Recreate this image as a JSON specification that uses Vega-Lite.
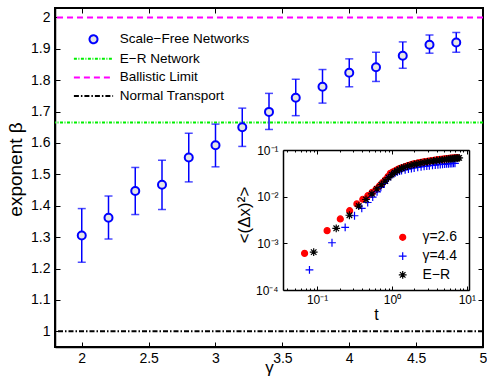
{
  "$schema": "https://vega.github.io/schema/vega-lite/v6.json",
  "width": 428,
  "height": 339,
  "autosize": {"type": "none"},
  "padding": {"left": 55, "top": 8, "right": 4, "bottom": 39},
  "background": "white",
  "config": {
    "font": "Liberation Sans",
    "view": {"stroke": "#000", "strokeWidth": 2},
    "axis": {"grid": false, "domainColor": "#000", "domainWidth": 1.5, "tickColor": "#000", "tickWidth": 1, "labelColor": "#000", "titleColor": "#000", "labelFont": "Liberation Sans", "titleFont": "Liberation Sans", "titleFontWeight": "normal", "labelOverlap": false, "labelFlush": false, "labelBound": false},
    "legend": {"labelFont": "Liberation Sans", "labelColor": "#000", "padding": 0}
  },
  "datasets": {
    "beta": [
      {"series": "Scale−Free Networks", "g": 2.0, "b": 1.305, "lo": 1.22, "hi": 1.391},
      {"series": "Scale−Free Networks", "g": 2.2, "b": 1.362, "lo": 1.294, "hi": 1.431},
      {"series": "Scale−Free Networks", "g": 2.4, "b": 1.447, "lo": 1.372, "hi": 1.522},
      {"series": "Scale−Free Networks", "g": 2.6, "b": 1.467, "lo": 1.388, "hi": 1.545},
      {"series": "Scale−Free Networks", "g": 2.8, "b": 1.554, "lo": 1.476, "hi": 1.631},
      {"series": "Scale−Free Networks", "g": 3.0, "b": 1.593, "lo": 1.524, "hi": 1.66},
      {"series": "Scale−Free Networks", "g": 3.2, "b": 1.65, "lo": 1.589, "hi": 1.711},
      {"series": "Scale−Free Networks", "g": 3.4, "b": 1.699, "lo": 1.643, "hi": 1.758},
      {"series": "Scale−Free Networks", "g": 3.6, "b": 1.744, "lo": 1.687, "hi": 1.803},
      {"series": "Scale−Free Networks", "g": 3.8, "b": 1.779, "lo": 1.727, "hi": 1.834},
      {"series": "Scale−Free Networks", "g": 4.0, "b": 1.824, "lo": 1.779, "hi": 1.868},
      {"series": "Scale−Free Networks", "g": 4.2, "b": 1.841, "lo": 1.796, "hi": 1.889},
      {"series": "Scale−Free Networks", "g": 4.4, "b": 1.878, "lo": 1.838, "hi": 1.922},
      {"series": "Scale−Free Networks", "g": 4.6, "b": 1.913, "lo": 1.886, "hi": 1.944},
      {"series": "Scale−Free Networks", "g": 4.8, "b": 1.92, "lo": 1.889, "hi": 1.952}
    ],
    "levels": [
      {"series": "Ballistic Limit", "level": 2},
      {"series": "E−R Network", "level": 1.665},
      {"series": "Normal Transport", "level": 1}
    ],
    "msd": [
      {"curve": "γ=2.6", "t": 0.068, "v": 0.00061},
      {"curve": "γ=2.6", "t": 0.136, "v": 0.00187},
      {"curve": "γ=2.6", "t": 0.204, "v": 0.00333},
      {"curve": "γ=2.6", "t": 0.272, "v": 0.005},
      {"curve": "γ=2.6", "t": 0.34, "v": 0.007},
      {"curve": "γ=2.6", "t": 0.408, "v": 0.0088},
      {"curve": "γ=2.6", "t": 0.476, "v": 0.0105},
      {"curve": "γ=2.6", "t": 0.544, "v": 0.0124},
      {"curve": "γ=2.6", "t": 0.612, "v": 0.01445},
      {"curve": "γ=2.6", "t": 0.68, "v": 0.01698},
      {"curve": "γ=2.6", "t": 0.748, "v": 0.01995},
      {"curve": "γ=2.6", "t": 0.816, "v": 0.02291},
      {"curve": "γ=2.6", "t": 0.884, "v": 0.02692},
      {"curve": "γ=2.6", "t": 0.952, "v": 0.03162},
      {"curve": "γ=2.6", "t": 1.02, "v": 0.0335},
      {"curve": "γ=2.6", "t": 1.09, "v": 0.03548},
      {"curve": "γ=2.6", "t": 1.16, "v": 0.0372},
      {"curve": "γ=2.6", "t": 1.22, "v": 0.0389},
      {"curve": "γ=2.6", "t": 1.29, "v": 0.0403},
      {"curve": "γ=2.6", "t": 1.36, "v": 0.04169},
      {"curve": "γ=2.6", "t": 1.5, "v": 0.04416},
      {"curve": "γ=2.6", "t": 1.63, "v": 0.04624},
      {"curve": "γ=2.6", "t": 1.77, "v": 0.04808},
      {"curve": "γ=2.6", "t": 1.9, "v": 0.04966},
      {"curve": "γ=2.6", "t": 2.04, "v": 0.05105},
      {"curve": "γ=2.6", "t": 2.24, "v": 0.05272},
      {"curve": "γ=2.6", "t": 2.45, "v": 0.05433},
      {"curve": "γ=2.6", "t": 2.65, "v": 0.05559},
      {"curve": "γ=2.6", "t": 2.86, "v": 0.05675},
      {"curve": "γ=2.6", "t": 3.06, "v": 0.05781},
      {"curve": "γ=2.6", "t": 3.4, "v": 0.05943},
      {"curve": "γ=2.6", "t": 3.74, "v": 0.06067},
      {"curve": "γ=2.6", "t": 4.08, "v": 0.06194},
      {"curve": "γ=2.6", "t": 4.42, "v": 0.06295},
      {"curve": "γ=2.6", "t": 4.76, "v": 0.06383},
      {"curve": "γ=2.6", "t": 5.1, "v": 0.06457},
      {"curve": "γ=2.6", "t": 5.44, "v": 0.06531},
      {"curve": "γ=2.6", "t": 5.78, "v": 0.06607},
      {"curve": "γ=2.6", "t": 6.12, "v": 0.06668},
      {"curve": "γ=2.6", "t": 6.46, "v": 0.0673},
      {"curve": "γ=2.6", "t": 6.8, "v": 0.06776},
      {"curve": "γ=2.6", "t": 7.14, "v": 0.06823},
      {"curve": "γ=2.6", "t": 7.48, "v": 0.06871},
      {"curve": "γ=4.4", "t": 0.079, "v": 0.00027},
      {"curve": "γ=4.4", "t": 0.158, "v": 0.00103},
      {"curve": "γ=4.4", "t": 0.237, "v": 0.0022},
      {"curve": "γ=4.4", "t": 0.316, "v": 0.0039},
      {"curve": "γ=4.4", "t": 0.395, "v": 0.0056},
      {"curve": "γ=4.4", "t": 0.474, "v": 0.0075},
      {"curve": "γ=4.4", "t": 0.553, "v": 0.0098},
      {"curve": "γ=4.4", "t": 0.632, "v": 0.01262},
      {"curve": "γ=4.4", "t": 0.711, "v": 0.01578},
      {"curve": "γ=4.4", "t": 0.79, "v": 0.0193},
      {"curve": "γ=4.4", "t": 0.869, "v": 0.02307},
      {"curve": "γ=4.4", "t": 0.948, "v": 0.02729},
      {"curve": "γ=4.4", "t": 1.027, "v": 0.0302},
      {"curve": "γ=4.4", "t": 1.106, "v": 0.0324},
      {"curve": "γ=4.4", "t": 1.185, "v": 0.0339},
      {"curve": "γ=4.4", "t": 1.264, "v": 0.0351},
      {"curve": "γ=4.4", "t": 1.343, "v": 0.0361},
      {"curve": "γ=4.4", "t": 1.5, "v": 0.0376},
      {"curve": "γ=4.4", "t": 1.66, "v": 0.0389},
      {"curve": "γ=4.4", "t": 1.82, "v": 0.0401},
      {"curve": "γ=4.4", "t": 1.98, "v": 0.0411},
      {"curve": "γ=4.4", "t": 2.21, "v": 0.0424},
      {"curve": "γ=4.4", "t": 2.45, "v": 0.0435},
      {"curve": "γ=4.4", "t": 2.69, "v": 0.0445},
      {"curve": "γ=4.4", "t": 2.92, "v": 0.0453},
      {"curve": "γ=4.4", "t": 3.16, "v": 0.046},
      {"curve": "γ=4.4", "t": 3.48, "v": 0.0469},
      {"curve": "γ=4.4", "t": 3.79, "v": 0.0476},
      {"curve": "γ=4.4", "t": 4.11, "v": 0.0483},
      {"curve": "γ=4.4", "t": 4.42, "v": 0.0489},
      {"curve": "γ=4.4", "t": 4.74, "v": 0.0494},
      {"curve": "γ=4.4", "t": 5.06, "v": 0.0499},
      {"curve": "γ=4.4", "t": 5.37, "v": 0.0504},
      {"curve": "γ=4.4", "t": 5.69, "v": 0.0507},
      {"curve": "γ=4.4", "t": 6.0, "v": 0.051},
      {"curve": "γ=4.4", "t": 6.32, "v": 0.0514},
      {"curve": "γ=4.4", "t": 6.64, "v": 0.0516},
      {"curve": "γ=4.4", "t": 6.95, "v": 0.0519},
      {"curve": "E−R", "t": 0.09, "v": 0.000646},
      {"curve": "E−R", "t": 0.18, "v": 0.0021},
      {"curve": "E−R", "t": 0.27, "v": 0.004},
      {"curve": "E−R", "t": 0.36, "v": 0.0063},
      {"curve": "E−R", "t": 0.45, "v": 0.0087},
      {"curve": "E−R", "t": 0.54, "v": 0.01153},
      {"curve": "E−R", "t": 0.63, "v": 0.01466},
      {"curve": "E−R", "t": 0.72, "v": 0.01803},
      {"curve": "E−R", "t": 0.81, "v": 0.02163},
      {"curve": "E−R", "t": 0.9, "v": 0.02553},
      {"curve": "E−R", "t": 0.99, "v": 0.02965},
      {"curve": "E−R", "t": 1.08, "v": 0.0331},
      {"curve": "E−R", "t": 1.17, "v": 0.0359},
      {"curve": "E−R", "t": 1.26, "v": 0.0385},
      {"curve": "E−R", "t": 1.35, "v": 0.0406},
      {"curve": "E−R", "t": 1.44, "v": 0.0425},
      {"curve": "E−R", "t": 1.62, "v": 0.0452},
      {"curve": "E−R", "t": 1.8, "v": 0.0473},
      {"curve": "E−R", "t": 1.98, "v": 0.0492},
      {"curve": "E−R", "t": 2.16, "v": 0.0507},
      {"curve": "E−R", "t": 2.43, "v": 0.0526},
      {"curve": "E−R", "t": 2.7, "v": 0.0543},
      {"curve": "E−R", "t": 2.97, "v": 0.0557},
      {"curve": "E−R", "t": 3.24, "v": 0.0569},
      {"curve": "E−R", "t": 3.6, "v": 0.0583},
      {"curve": "E−R", "t": 3.96, "v": 0.0596},
      {"curve": "E−R", "t": 4.32, "v": 0.0607},
      {"curve": "E−R", "t": 4.68, "v": 0.0617},
      {"curve": "E−R", "t": 5.04, "v": 0.0625},
      {"curve": "E−R", "t": 5.4, "v": 0.0634},
      {"curve": "E−R", "t": 5.76, "v": 0.0641},
      {"curve": "E−R", "t": 6.12, "v": 0.0649},
      {"curve": "E−R", "t": 6.48, "v": 0.0655},
      {"curve": "E−R", "t": 6.84, "v": 0.0661},
      {"curve": "E−R", "t": 7.2, "v": 0.0667},
      {"curve": "E−R", "t": 7.56, "v": 0.0671},
      {"curve": "E−R", "t": 7.92, "v": 0.0676}
    ]
  },
  "layer": [
    {
      "layer": [
        {
          "data": {"name": "levels"},
          "mark": {"type": "rule", "strokeWidth": 2},
          "encoding": {
            "y": {"field": "level", "type": "quantitative", "scale": {"domain": [0.95, 2.03], "nice": false, "zero": false},
              "axis": {"orient": "left", "values": [1, 1.1, 1.2, 1.3, 1.4, 1.5, 1.6, 1.7, 1.8, 1.9, 2], "format": "~g", "tickSize": -5, "labelPadding": 10, "labelFontSize": 14, "title": "exponent β", "titleFontSize": 19, "titlePadding": 5, "titleY": 161}},
            "stroke": {"field": "series", "type": "nominal",
              "scale": {"domain": ["Scale−Free Networks", "E−R Network", "Ballistic Limit", "Normal Transport"], "range": ["#0000ff", "#00f000", "#ff00ff", "#000000"]},
              "legend": {"orient": "none", "legendX": 20, "legendY": 24.5, "title": null, "symbolOffset": 11.75, "labelOffset": 19.5, "rowPadding": 3.6, "labelFontSize": 13.5, "symbolSize": 64, "symbolStrokeWidth": 2, "symbolFillColor": "#e5e5e5"}},
            "strokeDash": {"field": "series", "type": "nominal",
              "scale": {"domain": ["Scale−Free Networks", "E−R Network", "Ballistic Limit", "Normal Transport"], "range": [[1, 0], [3, 1.5, 1, 1.5], [6, 4], [5, 2, 1.5, 2]]},
              "legend": {"orient": "none", "legendX": 20, "legendY": 24.5, "title": null, "symbolOffset": 11.75, "labelOffset": 19.5, "rowPadding": 3.6, "labelFontSize": 13.5, "symbolSize": 64, "symbolStrokeWidth": 2, "symbolFillColor": "#e5e5e5"}}
          }
        },
        {
          "data": {"name": "beta"},
          "mark": {"type": "rule", "color": "#0000ff", "strokeWidth": 1.5},
          "encoding": {
            "x": {"field": "g", "type": "quantitative", "scale": {"domain": [1.8, 5], "nice": false, "zero": false},
              "axis": {"orient": "bottom", "values": [2, 2.5, 3, 3.5, 4, 4.5, 5], "format": "~g", "tickSize": -5, "labelPadding": 9, "labelFontSize": 14, "title": "γ", "titleFontSize": 17, "titlePadding": -6}},
            "y": {"field": "lo", "type": "quantitative", "axis": null},
            "y2": {"field": "hi"}
          }
        },
        {
          "data": {"name": "beta"},
          "mark": {"type": "tick", "orient": "horizontal", "color": "#0000ff", "thickness": 1.5, "size": 8},
          "encoding": {
            "x": {"field": "g", "type": "quantitative", "axis": {"orient": "top", "values": [2, 2.5, 3, 3.5, 4, 4.5, 5], "labels": false, "tickSize": -5, "title": null, "domain": false}},
            "y": {"field": "hi", "type": "quantitative", "axis": {"orient": "right", "values": [1, 1.1, 1.2, 1.3, 1.4, 1.5, 1.6, 1.7, 1.8, 1.9, 2], "labels": false, "tickSize": -5, "title": null, "domain": false}}
          }
        },
        {
          "data": {"name": "beta"},
          "mark": {"type": "tick", "orient": "horizontal", "color": "#0000ff", "thickness": 1.5, "size": 8},
          "encoding": {
            "x": {"field": "g", "type": "quantitative", "axis": null},
            "y": {"field": "lo", "type": "quantitative", "axis": null}
          }
        },
        {
          "data": {"name": "beta"},
          "mark": {"type": "point", "filled": false, "fill": "#e5e5e5", "strokeWidth": 2, "size": 64, "opacity": 1},
          "encoding": {
            "x": {"field": "g", "type": "quantitative", "axis": null},
            "y": {"field": "b", "type": "quantitative", "axis": null},
            "stroke": {"field": "series", "type": "nominal",
              "scale": {"domain": ["Scale−Free Networks", "E−R Network", "Ballistic Limit", "Normal Transport"], "range": ["#0000ff", "#00f000", "#ff00ff", "#000000"]},
              "legend": {"orient": "none", "legendX": 20, "legendY": 24.5, "title": null, "symbolOffset": 11.75, "labelOffset": 19.5, "rowPadding": 3.6, "labelFontSize": 13.5, "symbolSize": 64, "symbolStrokeWidth": 2, "symbolFillColor": "#e5e5e5"}},
            "shape": {"field": "series", "type": "nominal",
              "scale": {"domain": ["Scale−Free Networks", "E−R Network", "Ballistic Limit", "Normal Transport"], "range": ["circle", "M-4.9,0H4.9", "M-4.9,0H4.9", "M-4.9,0H4.9"]},
              "legend": {"orient": "none", "legendX": 20, "legendY": 24.5, "title": null, "symbolOffset": 11.75, "labelOffset": 19.5, "rowPadding": 3.6, "labelFontSize": 13.5, "symbolSize": 64, "symbolStrokeWidth": 2, "symbolFillColor": "#e5e5e5"}}
          }
        }
      ],
      "resolve": {"axis": {"x": "independent", "y": "independent"}}
    },
    {
      "layer": [
        {
          "data": {"name": "msd"},
          "mark": {"type": "point", "strokeWidth": 1.2, "size": 36, "opacity": 1},
          "encoding": {
            "x": {"field": "t", "type": "quantitative", "scale": {"type": "log", "domain": [0.035, 10.7], "range": [228, 414], "nice": false},
              "axis": {"orient": "bottom", "offset": -57, "values": [0.04, 0.05, 0.06, 0.07, 0.08, 0.09, 0.1, 0.2, 0.3, 0.4, 0.5, 0.6, 0.7, 0.8, 0.9, 1, 2, 3, 4, 5, 6, 7, 8, 9, 10],
                "labelExpr": "datum.value == 0.1 ? '10⁻¹' : datum.value == 1 ? '10⁰' : datum.value == 10 ? '10¹' : ''",
                "tickSize": {"condition": {"test": "datum.value == 0.1 || datum.value == 1 || datum.value == 10", "value": -4}, "value": -2},
                "labelPadding": 8, "labelFontSize": 12, "title": "t", "titleFontSize": 16, "titlePadding": -1}},
            "y": {"field": "v", "type": "quantitative", "scale": {"type": "log", "domain": [0.0001, 0.1], "range": [282, 142], "nice": false},
              "axis": {"orient": "left", "offset": -228, "values": [0.0001, 0.001, 0.01, 0.1],
                "labelExpr": "datum.value == 0.0001 ? '10⁻⁴' : datum.value == 0.001 ? '10⁻³' : datum.value == 0.01 ? '10⁻²' : '10⁻¹'",
                "tickSize": -4, "labelPadding": 9, "labelFontSize": 12, "title": "<(Δx)²>", "titleFontSize": 17, "titlePadding": 2, "titleY": 206.5}},
            "stroke": {"field": "curve", "type": "nominal", "scale": {"domain": ["γ=2.6", "γ=4.4", "E−R"], "range": ["#ff0000", "#0000ff", "#000000"]},
              "legend": {"orient": "none", "legendX": 330, "legendY": 222.3, "title": null, "symbolOffset": 10.7, "labelOffset": 12.7, "rowPadding": 4.8, "labelFontSize": 14, "symbolSize": 36, "symbolStrokeWidth": 1.2}},
            "fill": {"field": "curve", "type": "nominal", "scale": {"domain": ["γ=2.6", "γ=4.4", "E−R"], "range": ["#ff0000", "transparent", "transparent"]},
              "legend": {"orient": "none", "legendX": 330, "legendY": 222.3, "title": null, "symbolOffset": 10.7, "labelOffset": 12.7, "rowPadding": 4.8, "labelFontSize": 14, "symbolSize": 36, "symbolStrokeWidth": 1.2}},
            "shape": {"field": "curve", "type": "nominal", "scale": {"domain": ["γ=2.6", "γ=4.4", "E−R"], "range": ["circle", "M-1.3,0H1.3M0,-1.3V1.3", "M-1.3,0H1.3M0,-1.3V1.3M-0.92,-0.92L0.92,0.92M-0.92,0.92L0.92,-0.92"]},
              "legend": {"orient": "none", "legendX": 330, "legendY": 222.3, "title": null, "symbolOffset": 10.7, "labelOffset": 12.7, "rowPadding": 4.8, "labelFontSize": 14, "symbolSize": 36, "symbolStrokeWidth": 1.2}}
          }
        },
        {
          "data": {"name": "msd"},
          "mark": {"type": "point", "opacity": 0},
          "encoding": {
            "x": {"field": "t", "type": "quantitative",
              "axis": {"orient": "top", "offset": -142, "values": [0.04, 0.05, 0.06, 0.07, 0.08, 0.09, 0.1, 0.2, 0.3, 0.4, 0.5, 0.6, 0.7, 0.8, 0.9, 1, 2, 3, 4, 5, 6, 7, 8, 9, 10], "labels": false, "tickSize": {"condition": {"test": "datum.value == 0.1 || datum.value == 1 || datum.value == 10", "value": -4}, "value": -2}, "title": null}},
            "y": {"field": "v", "type": "quantitative",
              "axis": {"orient": "right", "offset": -14, "values": [0.0001, 0.001, 0.01, 0.1], "labels": false, "tickSize": -4, "title": null}}
          }
        }
      ],
      "resolve": {"axis": {"x": "independent", "y": "independent"}}
    }
  ],
  "resolve": {
    "scale": {"x": "independent", "y": "independent", "stroke": "independent", "fill": "independent", "shape": "independent", "strokeDash": "independent"},
    "axis": {"x": "independent", "y": "independent"},
    "legend": {"stroke": "independent", "fill": "independent", "shape": "independent", "strokeDash": "independent"}
  }
}
